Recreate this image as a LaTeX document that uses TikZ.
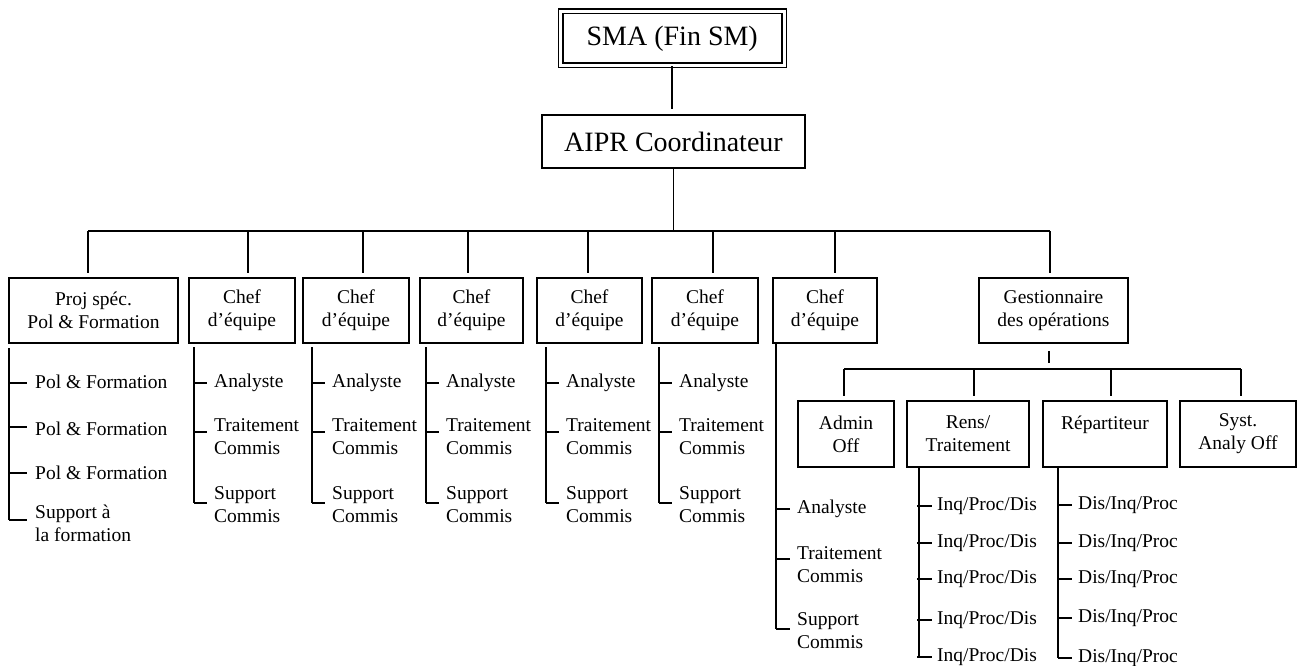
\documentclass[tikz,border=0pt]{standalone}
\usepackage{fontspec}
\setmainfont{Liberation Serif}
\newcommand\lblfont{\fontsize{19.5}{23}\selectfont}
\newcommand\bigfont{\fontsize{28}{32}\selectfont}
\begin{document}
\begin{tikzpicture}[x=1pt,y=-1pt,
  box/.style={draw, line width=1.8pt, inner sep=0pt, align=center, font=\lblfont},
  lvl/.style={box, minimum height=65pt},
  conn/.style={line width=1.8pt},
  lbl/.style={anchor=west, inner sep=0pt, align=left, font=\lblfont}]
\fill[white] (0,0) rectangle (1303,666);
\useasboundingbox (0,0) rectangle (1303,666);

% top boxes
\node[box, double, double distance=3pt, line width=1.5pt, minimum width=223.5pt, minimum height=54pt, font=\bigfont] (sma) at (672.25,38.5) {SMA (Fin SM)};
\node[box, minimum width=263pt, minimum height=53pt, font=\bigfont] (aipr) at (673.5,141.5) {AIPR Coordinateur};
\draw[conn, shorten >=5pt] (sma.south) -- (sma.south |- aipr.north);

% level 1 boxes
\node[lvl, minimum width=169pt] (proj) at (93.5,310.5) {Proj spéc.\\Pol \& Formation};
\node[lvl, minimum width=106pt] (c1) at (242,310.5) {Chef\\d’équipe};
\node[lvl, minimum width=106pt] (c2) at (356,310.5) {Chef\\d’équipe};
\node[lvl, minimum width=103pt] (c3) at (471.5,310.5) {Chef\\d’équipe};
\node[lvl, minimum width=105pt] (c4) at (589.5,310.5) {Chef\\d’équipe};
\node[lvl, minimum width=106pt] (c5) at (705,310.5) {Chef\\d’équipe};
\node[lvl, minimum width=104pt] (c6) at (825,310.5) {Chef\\d’équipe};
\node[lvl, minimum width=149pt] (gest) at (1053.5,310.5) {Gestionnaire\\des opérations};

% top bus
\coordinate (dproj) at (88,231);
\coordinate (dc1) at (248,231);
\coordinate (dc2) at (363,231);
\coordinate (dc3) at (468,231);
\coordinate (dc4) at (588,231);
\coordinate (dc5) at (713,231);
\coordinate (dc6) at (835,231);
\coordinate (dgest) at (1050,231);
\draw[conn] (aipr.south) -- (aipr.south |- dproj);
\draw[conn] (dproj) -- (dgest);
\foreach \b in {proj,c1,c2,c3,c4,c5,c6,gest}
  \draw[conn, shorten >=4.5pt] (d\b) -- (d\b |- \b.north);

% level 2 boxes
\node[lvl, minimum width=96pt, minimum height=66pt] (admin) at (846,434) {Admin\\Off};
\node[lvl, minimum width=122pt, minimum height=66pt] (rens) at (968,434) {Rens/\\Traitement};
\node[lvl, minimum width=124pt, minimum height=66pt] (rep) at (1105,434) {Répartiteur\\\mbox{}};
\node[lvl, minimum width=116pt, minimum height=66pt] (syst) at (1238,434) {Syst.\\Analy Off};
\coordinate (g2) at (1049,369);
\coordinate (dadmin) at (844,369);
\coordinate (drens) at (974,369);
\coordinate (drep) at (1111,369);
\coordinate (dsyst) at (1241,369);
\draw[conn, shorten <=7pt, shorten >=6pt] (gest.south -| g2) -- (g2);
\draw[conn] (dadmin) -- (dsyst);
\foreach \b in {admin,rens,rep,syst}
  \draw[conn, shorten >=4pt] (d\b) -- (d\b |- \b.north);

% Proj children
\coordinate (sproj) at (9,348);
\draw[conn] (sproj) -- (9,520);
\foreach \y in {383,427,473,520} \draw[conn] (9,\y) -- (27,\y);
\node[lbl] (p1) at (35,382) {Pol \& Formation};
\node[lbl] (p2) at (35,429) {Pol \& Formation};
\node[lbl] (p3) at (35,473) {Pol \& Formation};
\node[lbl] (p4) at (35,523.5) {Support à\\la formation};

% Chef 1-5 children
\foreach \n/\sx in {c1/194,c2/312,c3/426,c4/546,c5/659}{
  \draw[conn] (\sx,347) -- (\sx,503);
  \foreach \y in {383,432,503} \draw[conn] (\sx,\y) -- (\sx+13,\y);
  \node[lbl] (\n a) at (\sx+20,383) {Analyste};
  \node[lbl] (\n b) at (\sx+20,436.5) {Traitement\\Commis};
  \node[lbl] (\n c) at (\sx+20,504.5) {Support\\Commis};
}

% Chef 6 children
\draw[conn] (c6.south -| 776,0) -- (776,629);
\foreach \y in {509,559,629} \draw[conn] (776,\y) -- (790,\y);
\node[lbl] (c6a) at (797,509) {Analyste};
\node[lbl] (c6b) at (797,564.5) {Traitement\\Commis};
\node[lbl] (c6c) at (797,630.5) {Support\\Commis};

% Rens children
\draw[conn] (rens.south -| 919,0) -- (919,657);
\foreach \y/\k in {506/1,543/2,579/3,620/4,657/5}{
  \draw[conn] (917,\y) -- (932,\y);
  \node[lbl] (r\k) at (937,\y) {Inq/Proc/Dis};
}

% Repartiteur children
\draw[conn] (rep.south -| 1058,0) -- (1058,658);
\foreach \y/\k in {505/1,543/2,579/3,618/4,658/5}{
  \draw[conn] (1058,\y) -- (1072,\y);
  \node[lbl] (q\k) at (1078,\y) {Dis/Inq/Proc};
}
\end{tikzpicture}
\end{document}
